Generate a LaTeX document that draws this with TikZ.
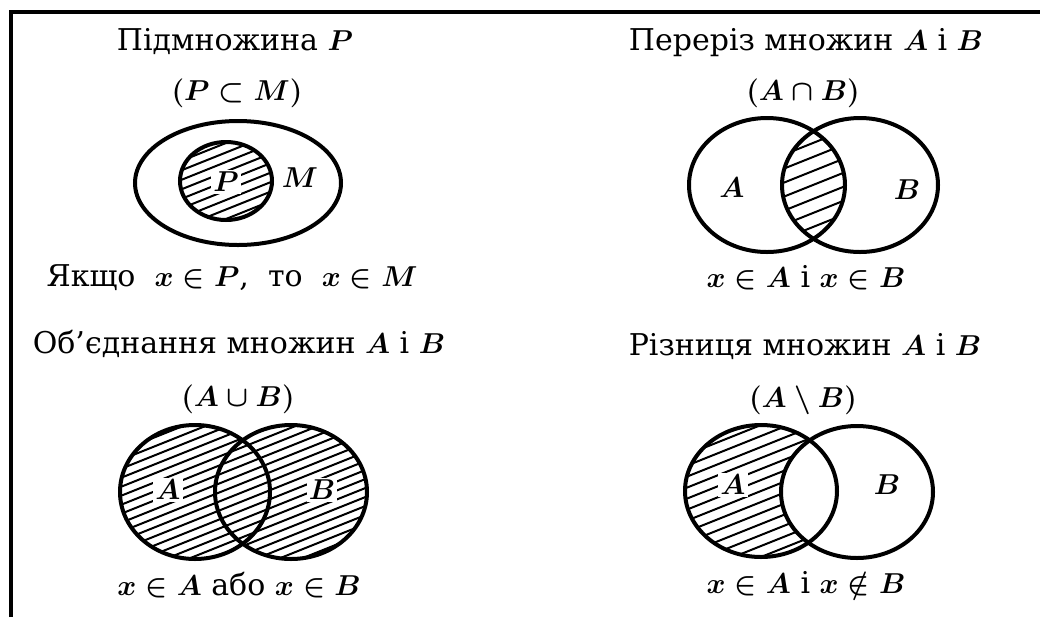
\documentclass[tikz,border=0pt]{standalone}
\usepackage{fontspec}
\setmainfont{DejaVu Serif}
\begin{document}
\boldmath
\begin{tikzpicture}[x=0.5pt,y=-0.5pt,
  outline/.style={line width=2pt},
  hatchline/.style={line width=1pt},
  txt/.style={anchor=base,inner sep=0pt,font=\fontsize{15}{18}\selectfont},
  lbl/.style={inner sep=1pt,font=\fontsize{15}{18}\selectfont},
  lblw/.style={lbl,fill=white}]
\newcommand\hatchfill[3]{%
  \foreach \k in {-16,...,16}
    \draw[hatchline] (#1-200,#2+80+\k*#3) -- (#1+200,#2-80+\k*#3);}
\useasboundingbox (0,0) rectangle (1040,617);
% frame
\draw[line width=2pt] (11,617) -- (11,12) -- (1040,12);

% ---- panel 1: subset
\node[txt] (t1) at (235,50) {Підмножина $P$};
\node[txt] (s1) at (237,100) {$(P\subset M)$};
\begin{scope}
  \clip (226,181) ellipse [x radius=46, y radius=39];
  \hatchfill{226}{181}{9.5}
\end{scope}
\draw[outline] (238,183) ellipse [x radius=103, y radius=62];
\draw[outline] (226,181) ellipse [x radius=46, y radius=39];
\node[lblw] (P) at (226,182) {$P$};
\node[lbl] (M) at (300,178) {$M$};
\node[txt] (b1) at (232,286) {Якщо\ \ $x\in P$,\ \ то\ \ $x\in M$};

% ---- panel 2: intersection
\node[txt] (t2) at (806,50) {Переріз множин $A$ і $B$};
\node[txt] (s2) at (803,100) {$(A\cap B)$};
\begin{scope}
  \clip (767,185) ellipse [x radius=78, y radius=67];
  \clip (860,185) ellipse [x radius=78, y radius=67];
  \hatchfill{813}{185}{14}
\end{scope}
\draw[outline] (767,185) ellipse [x radius=78, y radius=67];
\draw[outline] (860,185) ellipse [x radius=78, y radius=67];
\node[lbl] (A2) at (732,188) {$A$};
\node[lbl] (B2) at (907,190) {$B$};
\node[txt] (b2) at (806,287) {$x\in A$ і $x\in B$};

% ---- panel 3: union
\node[txt] (t3) at (239,353) {Об’єднання множин $A$ і $B$};
\node[txt] (s3) at (238,406) {$(A\cup B)$};
\begin{scope}
  \clip (195,492) ellipse [x radius=75, y radius=67]
        (291,492) ellipse [x radius=76, y radius=67];
  \hatchfill{243}{492}{9}
\end{scope}
\draw[outline] (195,492) ellipse [x radius=75, y radius=67];
\draw[outline] (291,492) ellipse [x radius=76, y radius=67];
\node[lblw] (A3) at (168,490) {$A$};
\node[lblw] (B3) at (322,490) {$B$};
\node[txt] (b3) at (239,595) {$x\in A$ або $x\in B$};

% ---- panel 4: difference
\node[txt] (t4) at (805,355) {Різниця множин $A$ і $B$};
\node[txt] (s4) at (803,407) {$(A\setminus B)$};
\begin{scope}
  \clip (761,491) ellipse [x radius=76, y radius=66];
  \begin{scope}[even odd rule]
    \clip (761,491) ellipse [x radius=76, y radius=66]
          (857,492) ellipse [x radius=76, y radius=66];
    \hatchfill{761}{491}{11}
  \end{scope}
\end{scope}
\draw[outline] (761,491) ellipse [x radius=76, y radius=66];
\draw[outline] (857,492) ellipse [x radius=76, y radius=66];
\node[lblw] (A4) at (733,485) {$A$};
\node[lbl] (B4) at (887,485) {$B$};
\node[txt] (b4) at (806,593) {$x\in A$ і $x\notin B$};
\end{tikzpicture}
\end{document}
